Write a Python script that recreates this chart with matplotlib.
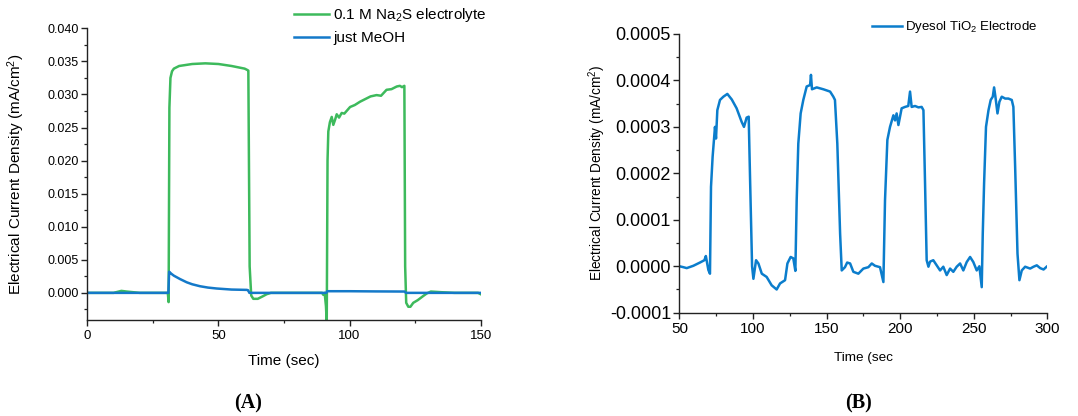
import matplotlib
matplotlib.use("Agg")
import matplotlib.pyplot as plt
from matplotlib.ticker import MultipleLocator, FormatStrFormatter

plt.rcParams['font.family'] = ['Liberation Sans', 'DejaVu Sans']
plt.rcParams['mathtext.default'] = 'regular'

# ---- Panel A: photocurrent with Na2S electrolyte vs. methanol only ----
na2s_t = [0, 10, 13, 15, 20, 30, 30.7, 31.0, 31.3, 31.7, 32.3, 33, 35, 40, 45, 50,
          55, 60, 61.0, 61.4, 61.9, 62.5, 63.3, 65, 67, 68.4, 70, 80, 89.5, 90,
          90.5, 91.0, 91.3, 91.6, 91.9, 92.5, 93.2, 93.8, 94.5, 95.1, 96, 97,
          98, 100.2, 102, 104, 106.5, 108, 110.3, 112, 114.1, 116, 118, 119.2,
          120.0, 120.9, 121.2, 121.6, 122.4, 123.2, 124.3, 126, 128, 129.4,
          131, 135, 140, 149, 150]
na2s_j = [0.0, 0.0, 0.0003, 0.0002, 0.0, 0.0, 0.0, -0.0014, 0.028, 0.0325, 0.0335,
          0.0339, 0.0343, 0.0346, 0.0347, 0.0346, 0.0343, 0.0339, 0.0337, 0.0336,
          0.004, -0.0004, -0.0009, -0.0009, -0.0005, -0.0002, 0.0, 0.0, 0.0,
          -0.0003, 0.0, -0.002, -0.0045, 0.020, 0.0244, 0.0258, 0.0266, 0.0254,
          0.0262, 0.0270, 0.0265, 0.0272, 0.0271, 0.0281, 0.0284, 0.0289,
          0.0294, 0.0297, 0.0299, 0.0298, 0.0307, 0.0308, 0.0312, 0.0313,
          0.0311, 0.0313, 0.004, -0.0015, -0.0021, -0.0021, -0.0015, -0.0011,
          -0.0005, -0.0001, 0.0002, 0.0001, 0.0, 0.0, -0.0002]

meoh_t = [0, 10, 20, 30.9, 31.2, 32, 33, 35.3, 37.9, 40, 43, 46, 49.3, 55, 60.8,
          61.3, 61.8, 70, 80, 91.1, 91.5, 100, 110, 121.0, 121.5, 130, 140, 150]
meoh_j = [0.0, 0.0, 0.0, 0.0, 0.0032, 0.0029, 0.0026, 0.0021, 0.0016, 0.0013,
          0.0010, 0.0008, 0.00066, 0.0005, 0.00045, 0.0004, 0.0, 0.0, 0.0, 0.0,
          0.00025, 0.00025, 0.00022, 0.0002, 0.0, 0.0, 0.0, 0.0]

# ---- Panel B: Dyesol TiO2 electrode under chopped light ----
tio2_t = [50, 52.7, 55, 59.5, 64, 67, 68, 69.7, 70.8, 71.5, 72.6, 74.2, 74.9, 75.8,
          77.6, 79.9, 82.6, 85.6, 88.9, 92.3, 93.9, 95.7, 97.1, 98.0, 99.4,
          100.3, 102.1, 103.7, 106, 109.3, 112.7, 116.1, 118.4, 121.8, 123.4,
          125.6, 127.4, 128.8, 129.7, 130.8, 132.4, 134.2, 136.5, 138.8, 139.4,
          140.1, 143.3, 147.8, 152.4, 154.6, 155.7, 157.3, 159.2, 160.3, 162.5,
          164, 166, 168.2, 171.6, 175, 178.4, 180.7, 182.9, 186.3, 188.6, 189.7,
          191.3, 193.1, 195.4, 196.5, 197.6, 198.8, 201, 203.3, 205.5, 206.7,
          207.8, 210.1, 212.4, 214.6, 215.8, 216.9, 218, 219.2, 220.3, 222.5,
          224.8, 227.1, 229.3, 231.6, 233.9, 236.1, 238.4, 240.7, 242.9, 245.2,
          247.5, 249.7, 252, 253.8, 255.4, 256.1, 257, 258.3, 260, 261.5, 262.9,
          263.8, 264.7, 266.1, 267.4, 269, 271.3, 273.5, 275.8, 276.9, 278.1,
          279.7, 281, 282.6, 284.9, 288.3, 290.6, 292.8, 295.1, 297.4, 299.5]
tio2_j = [0.0, -0.000002, -0.000004, 0.000001, 0.000008, 0.000013, 0.000022,
          -0.000008, -0.000016, 0.000171, 0.000236, 0.0003, 0.000275, 0.000336,
          0.000358, 0.000365, 0.000371, 0.000359, 0.00034, 0.000311, 0.0003,
          0.00032, 0.000322, 0.000193, 0.0, -0.000027, 0.000013, 0.000006,
          -0.000016, -0.000023, -0.000041, -0.00005, -0.000037, -0.00003,
          0.000006, 0.00002, 0.000017, -0.00001, 0.000142, 0.000264, 0.000329,
          0.000358, 0.000387, 0.00039, 0.000412, 0.000381, 0.000385, 0.000381,
          0.000376, 0.000365, 0.000358, 0.000264, 0.00007, -0.000009, -0.000002,
          0.000008, 0.000006, -0.000012, -0.000016, -0.000005, -0.000002,
          0.000006, 0.000001, -0.000002, -0.000034, 0.000142, 0.000272, 0.0003,
          0.000325, 0.000314, 0.000329, 0.000304, 0.00034, 0.000343, 0.000345,
          0.000376, 0.000343, 0.000345, 0.000342, 0.000343, 0.000336, 0.000178,
          0.000013, -0.000001, 0.00001, 0.000013, 0.000002, -0.000009,
          -0.000001, -0.000019, -0.000005, -0.000012, -0.000001, 0.000006,
          -0.000009, 0.000009, 0.00002, 0.000009, -0.000009, 0.0, -0.000045,
          0.00007, 0.000178, 0.0003, 0.000336, 0.000358, 0.000365, 0.000385,
          0.000365, 0.000329, 0.000354, 0.000365, 0.000361, 0.000361, 0.000358,
          0.000343, 0.000214, 0.000027, -0.00003, -0.000009, -0.000001,
          -0.000005, -0.000001, 0.000002, -0.000004, -0.000007, -0.000001]

GREEN = '#3dba5c'
BLUE_A = '#1479c9'
BLUE_B = '#0b7dcc'

fig = plt.figure(figsize=(10.78, 4.16), dpi=100)


def style_axis(ax, tick_size_x, tick_size_y):
    for side in ('top', 'right'):
        ax.spines[side].set_visible(False)
    for side in ('left', 'bottom'):
        ax.spines[side].set_color('#222222')
        ax.spines[side].set_linewidth(1.0)
    ax.tick_params(which='major', direction='out', length=4, width=1.0,
                   color='#222222')
    ax.tick_params(which='minor', direction='out', length=2.5, width=0.9,
                   color='#222222')
    ax.tick_params(axis='x', which='major', labelsize=tick_size_x, pad=3)
    ax.tick_params(axis='y', which='major', labelsize=tick_size_y, pad=2)


# Panel A
axA = fig.add_axes([0.0810, 0.2308, 0.3649, 0.7012])
axA.plot(na2s_t, na2s_j, color=GREEN, lw=1.8, label='0.1 M Na$_2$S electrolyte')
axA.plot(meoh_t, meoh_j, color=BLUE_A, lw=1.8, label='just MeOH')
axA.set_xlim(0, 150)
axA.set_ylim(-0.0041, 0.040)
axA.xaxis.set_major_locator(MultipleLocator(50))
axA.xaxis.set_minor_locator(MultipleLocator(25))
axA.yaxis.set_major_locator(MultipleLocator(0.005))
axA.yaxis.set_minor_locator(MultipleLocator(0.0025))
axA.yaxis.set_major_formatter(FormatStrFormatter('%.3f'))
style_axis(axA, 9.5, 9)
axA.set_xlabel('Time (sec)', fontsize=11)
axA.xaxis.set_label_coords(0.5, -0.115)
axA.set_ylabel('Electrical Current Density (mA/cm$^2$)', fontsize=11)
axA.yaxis.set_label_coords(-0.153, 0.5)
axA.legend(loc='upper left', bbox_to_anchor=(0.2727, 0.985),
           bbox_transform=fig.transFigure, frameon=False, fontsize=11,
           handlelength=2.3, handletextpad=0.26, borderpad=0,
           borderaxespad=0, labelspacing=0.45)

# Panel B
axB = fig.add_axes([0.6302, 0.2483, 0.3414, 0.6700])
axB.plot(tio2_t, tio2_j, color=BLUE_B, lw=1.8, label='Dyesol TiO$_2$ Electrode')
axB.set_xlim(50, 300)
axB.set_ylim(-0.0001, 0.0005)
axB.xaxis.set_major_locator(MultipleLocator(50))
axB.xaxis.set_minor_locator(MultipleLocator(25))
axB.yaxis.set_major_locator(MultipleLocator(0.0001))
axB.yaxis.set_minor_locator(MultipleLocator(0.00005))
axB.yaxis.set_major_formatter(FormatStrFormatter('%.4f'))
style_axis(axB, 11, 13)
axB.set_xlabel('Time (sec', fontsize=9.7)
axB.xaxis.set_label_coords(0.499, -0.142)
axB.set_ylabel('Electrical Current Density (mA/cm$^2$)', fontsize=9.8)
axB.yaxis.set_label_coords(-0.194, 0.5)
axB.legend(loc='upper left', bbox_to_anchor=(0.8086, 0.9534),
           bbox_transform=fig.transFigure, frameon=False, fontsize=9.5,
           handlelength=2.27, handletextpad=0.25, borderpad=0,
           borderaxespad=0)

# Panel letters
for x, letter in ((248, '(A)'), (858, '(B)')):
    fig.text(x / 1078, 1 - 403 / 416, letter, ha='center', va='center',
             fontsize=14.5, fontweight='bold',
             family=['Liberation Serif', 'DejaVu Serif'])

fig.savefig('out.png', dpi=100, facecolor='white')
